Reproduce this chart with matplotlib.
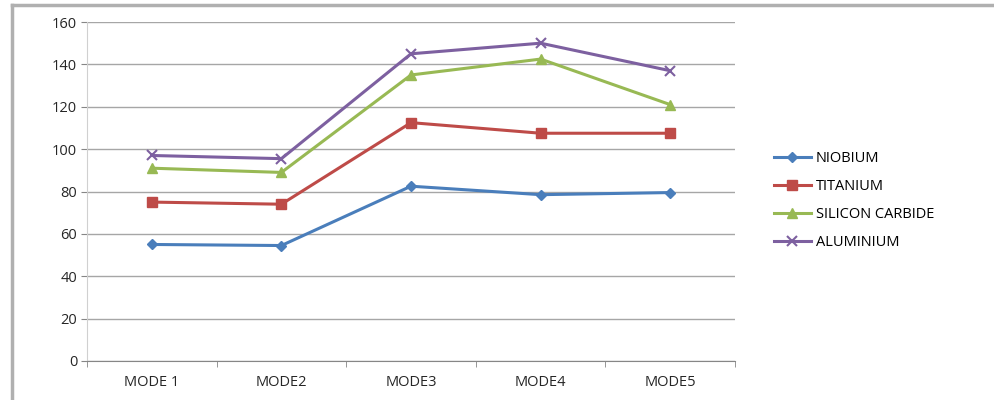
import matplotlib
matplotlib.use("Agg")
import matplotlib.pyplot as plt
from matplotlib.lines import Line2D
import numpy as np

plt.rcParams['font.family'] = ['Open Sans', 'DejaVu Sans']

categories = ["MODE 1", "MODE2", "MODE3", "MODE4", "MODE5"]
niobium = [55, 54.5, 82.5, 78.5, 79.5]
titanium = [75, 74, 112.5, 107.5, 107.5]
silicon_carbide = [91, 89, 135, 142.5, 121]
aluminium = [97, 95.5, 145, 150, 137]
series_names = ["NIOBIUM", "TITANIUM", "SILICON CARBIDE", "ALUMINIUM"]
yticks = [0, 20, 40, 60, 80, 100, 120, 140, 160]

fig = plt.figure(figsize=(9.94, 4.0), dpi=100)
# outer chart frame (top and left edges visible)
fig.lines.append(Line2D([0.012, 1.0], [0.9875, 0.9875], transform=fig.transFigure,
                        color="#b0b0b0", linewidth=2.5))
fig.lines.append(Line2D([0.012, 0.012], [0.0, 0.9875], transform=fig.transFigure,
                        color="#b0b0b0", linewidth=2.5))
ax = fig.add_axes([0.0875, 0.0975, 0.652, 0.8475])

x = np.arange(len(categories))
styles = [
    (niobium, "#4a7ebb", "D", 5.5),
    (titanium, "#be4b48", "s", 7.5),
    (silicon_carbide, "#98b954", "^", 7.5),
    (aluminium, "#7d60a0", "x", 7.5),
]
for (vals, color, marker, ms), name in zip(styles, series_names):
    ax.plot(x, vals, color=color, linewidth=2.2, marker=marker, markersize=ms,
            markeredgewidth=1.5 if marker == "x" else 1, markeredgecolor=color,
            markerfacecolor=color, label=name)

ax.set_xlim(-0.5, len(categories) - 0.5)
ax.set_ylim(0, 160)
ax.set_yticks(yticks)
ax.set_xticks(x)
ax.set_xticklabels(categories)
ax.set_xticks(np.arange(-0.5, len(categories)), minor=True)
ax.tick_params(axis="x", which="major", length=0, pad=10, labelsize=10.5, labelcolor="#262626")
ax.tick_params(axis="x", which="minor", length=4, color="#868686", direction="out")
ax.tick_params(axis="y", length=4, color="#868686", labelsize=10.5, labelcolor="#262626", pad=3)
ax.grid(axis="y", color="#a6a6a6", linewidth=1)
ax.set_axisbelow(True)
for side in ["top", "right"]:
    ax.spines[side].set_visible(False)
ax.spines["left"].set_color("#d0d0d0")
ax.spines["bottom"].set_color("#868686")

fig.legend(loc="upper left", bbox_to_anchor=(0.765, 0.655), frameon=False,
           fontsize=10.5, handlelength=2.6, labelspacing=0.88, handletextpad=0.3)

fig.savefig("out.png", dpi=100)
